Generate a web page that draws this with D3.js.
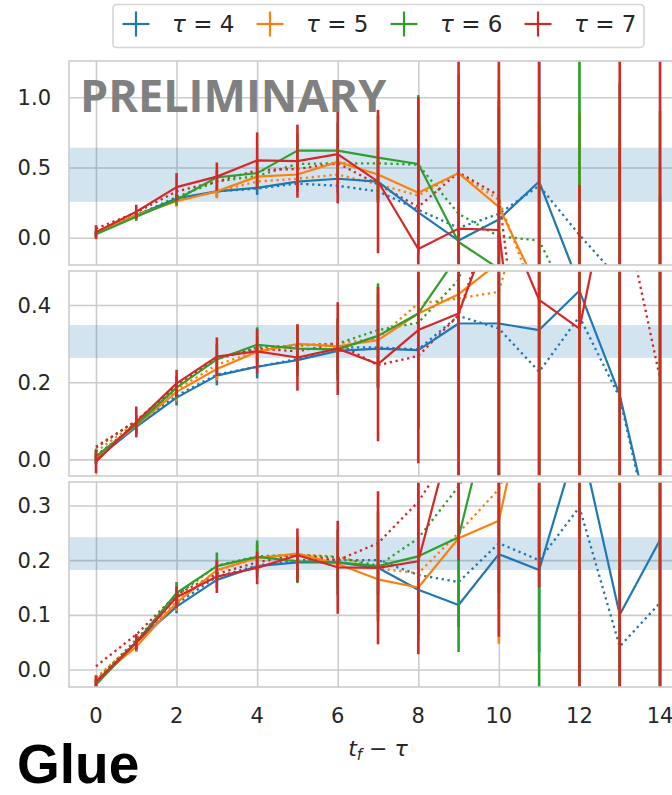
<!DOCTYPE html>
<html>
<head>
<meta charset="utf-8">
<script src="https://cdn.jsdelivr.net/npm/d3@7"></script>
<style>
  html, body { margin: 0; padding: 0; background: #fff; }
  svg { display: block; }
</style>
</head>
<body>
<svg id="chart" width="672" height="795"></svg>
<script>
// time separation t_f - tau
const steps = d3.range(0, 15);
const taus = [4, 5, 6, 7];
const colors = ["#1f77b4", "#ff7f0e", "#2ca02c", "#d62728"];

// ---- upper panel ----
const topMean = [
  [0.03, 0.16, 0.28, 0.33, 0.355, 0.40, 0.42, 0.40, 0.18, -0.02, 0.13, 0.40, -0.34, -0.9, -1.2],
  [0.03, 0.16, 0.26, 0.33, 0.435, 0.45, 0.54, 0.45, 0.32, 0.46, 0.22, -0.38, -0.6, -0.8, -1.0],
  [0.025, 0.15, 0.27, 0.43, 0.46, 0.62, 0.62, 0.57, 0.525, -0.03, -0.22, -0.5, -0.7, -0.9, -1.1],
  [0.04, 0.185, 0.36, 0.435, 0.55, 0.545, 0.595, 0.40, -0.08, 0.065, 0.055, -2.3, -2.5, -2.0, -2.2]
];
const topErr = [
  [0.02, 0.02, 0.03, 0.04, 0.05, 0.07, 0.10, 0.15, 0.30, 0.6, 0.8, 1.0, 1.2, 1.5, 1.5],
  [0.02, 0.03, 0.04, 0.05, 0.07, 0.10, 0.15, 0.20, 0.40, 0.7, 0.9, 1.2, 1.5, 1.5, 1.5],
  [0.02, 0.03, 0.04, 0.05, 0.10, 0.12, 0.20, 0.30, 0.49, 1.0, 1.2, 1.5, 2.5, 2.0, 2.0],
  [0.05, 0.05, 0.10, 0.10, 0.20, 0.26, 0.35, 0.51, 1.08, 3.0, 3.0, 4.0, 2.875, 4.0, 4.0]
];
const topDotted = [
  [0.03, 0.16, 0.27, 0.33, 0.35, 0.385, 0.37, 0.33, 0.20, 0.07, 0.17, 0.37, 0.02, -0.3, -0.6],
  [0.04, 0.16, 0.27, 0.33, 0.40, 0.42, 0.45, 0.38, 0.30, 0.46, 0.27, -0.5, -0.8, -1.0, -1.2],
  [0.04, 0.16, 0.29, 0.40, 0.44, 0.525, 0.53, 0.53, 0.52, 0.17, 0.01, -0.02, -0.6, -0.9, -1.2],
  [0.065, 0.18, 0.33, 0.40, 0.48, 0.49, 0.53, 0.38, 0.22, 0.465, 0.30, -2.0, -2.0, -2.0, -2.0]
];

// ---- middle panel ----
const midMean = [
  [0.0, 0.084, 0.16, 0.217, 0.24, 0.257, 0.281, 0.287, 0.283, 0.352, 0.352, 0.335, 0.437, 0.167, -0.28],
  [0.005, 0.088, 0.175, 0.234, 0.279, 0.299, 0.293, 0.309, 0.378, 0.428, 0.51, 0.75, 0.9, 0.8, 0.7],
  [0.008, 0.09, 0.186, 0.259, 0.297, 0.287, 0.285, 0.32, 0.378, 0.53, 0.75, 0.9, 0.8, 0.85, 0.9],
  [-0.006, 0.097, 0.197, 0.266, 0.28, 0.264, 0.287, 0.247, 0.335, 0.378, 0.66, 0.413, 0.339, 0.85, 1.2]
];
const midErr = [
  [0.01, 0.015, 0.02, 0.025, 0.03, 0.04, 0.06, 0.10, 0.20, 0.4, 0.6, 0.8, 1.0, 1.0, 1.0],
  [0.012, 0.02, 0.025, 0.03, 0.035, 0.05, 0.07, 0.12, 0.25, 0.45, 0.7, 0.9, 1.0, 1.0, 1.0],
  [0.02, 0.025, 0.03, 0.04, 0.045, 0.06, 0.08, 0.136, 0.30, 0.5, 0.8, 1.0, 1.0, 1.0, 1.0],
  [0.03, 0.04, 0.035, 0.05, 0.057, 0.086, 0.12, 0.20, 0.345, 2.0, 2.0, 2.0, 2.0, 2.0, 2.0]
];
const midDotted = [
  [0.01, 0.09, 0.165, 0.22, 0.24, 0.26, 0.29, 0.29, 0.285, 0.372, 0.339, 0.227, 0.37, 0.16, -0.3],
  [0.02, 0.095, 0.18, 0.245, 0.28, 0.295, 0.30, 0.314, 0.404, 0.417, 0.434, 0.81, 0.9, 1.0, 1.0],
  [0.03, 0.10, 0.19, 0.262, 0.29, 0.295, 0.30, 0.335, 0.354, 0.465, 0.8, 0.9, 0.9, 0.9, 0.9],
  [0.033, 0.10, 0.19, 0.26, 0.287, 0.28, 0.30, 0.244, 0.268, 0.374, 0.7, 0.9, 1.0, 0.70, 0.21]
];

// ---- lower panel ----
const lowMean = [
  [-0.025, 0.05, 0.115, 0.164, 0.189, 0.196, 0.196, 0.186, 0.146, 0.118, 0.211, 0.182, 0.43, 0.10, 0.237],
  [-0.02, 0.042, 0.122, 0.182, 0.204, 0.212, 0.193, 0.165, 0.15, 0.24, 0.272, 0.61, 0.5, 0.5, 0.5],
  [-0.028, 0.05, 0.14, 0.189, 0.206, 0.198, 0.196, 0.189, 0.207, 0.242, 0.54, 0.6, 0.6, 0.6, 0.6],
  [-0.023, 0.05, 0.132, 0.17, 0.186, 0.209, 0.187, 0.186, 0.198, 0.48, 0.70, 1.0, 0.9, 0.9, 0.9]
];
const lowErr = [
  [0.008, 0.01, 0.012, 0.015, 0.02, 0.025, 0.03, 0.05, 0.08, 0.04, 0.10, 0.15, 0.3, 0.5, 0.5],
  [0.01, 0.01, 0.015, 0.02, 0.025, 0.03, 0.04, 0.06, 0.10, 0.12, 0.225, 0.4, 0.5, 0.5, 0.5],
  [0.01, 0.012, 0.02, 0.025, 0.03, 0.04, 0.06, 0.10, 0.14, 0.21, 0.4, 0.7, 1.0, 1.0, 1.0],
  [0.012, 0.015, 0.02, 0.03, 0.03, 0.049, 0.085, 0.14, 0.17, 0.28, 0.64, 0.85, 2.0, 2.0, 2.0]
];
const lowDotted = [
  [-0.02, 0.05, 0.12, 0.17, 0.19, 0.20, 0.20, 0.20, 0.173, 0.16, 0.231, 0.20, 0.297, 0.042, 0.122],
  [-0.015, 0.05, 0.125, 0.18, 0.205, 0.21, 0.207, 0.185, 0.176, 0.25, 0.33, 0.5, 0.5, 0.5, 0.5],
  [-0.02, 0.055, 0.135, 0.19, 0.207, 0.21, 0.205, 0.19, 0.24, 0.335, 0.45, 0.5, 0.5, 0.5, 0.5],
  [0.006, 0.064, 0.137, 0.175, 0.196, 0.21, 0.20, 0.231, 0.307, 0.42, 0.6, 0.6, 0.6, 0.6, 0.6]
];

// y ticks and shaded reference bands
const topTicks = [0, 0.5, 1.0];
const midTicks = [0, 0.2, 0.4];
const lowTicks = [0, 0.1, 0.2, 0.3];
const topBand = [0.256, 0.641];
const midBand = [0.263, 0.348];
const lowBand = [0.182, 0.242];
const xTicks = [0, 2, 4, 6, 8, 10, 12, 14];

const svg = d3.select("#chart");
const gridColor = "#cccccc";
const x = d3.scaleLinear().domain([-0.67, 14.67]).range([69, 687]);

const panels = [
  { id: "top", top: 61, bottom: 265, domain: [-0.194, 1.258], ticks: topTicks, band: topBand, mean: topMean, err: topErr, dotted: topDotted },
  { id: "mid", top: 271, bottom: 476, domain: [-0.043, 0.488], ticks: midTicks, band: midBand, mean: midMean, err: midErr, dotted: midDotted },
  { id: "low", top: 482, bottom: 687, domain: [-0.032, 0.343], ticks: lowTicks, band: lowBand, mean: lowMean, err: lowErr, dotted: lowDotted }
];

const defs = svg.append("defs");

panels.forEach(p => {
  const y = d3.scaleLinear().domain(p.domain).range([p.bottom, p.top]);
  const [x0, x1] = x.range();

  defs.append("clipPath").attr("id", "clip-" + p.id)
    .append("rect").attr("x", x0).attr("y", p.top)
    .attr("width", x1 - x0).attr("height", p.bottom - p.top);

  const g = svg.append("g");

  // grid lines
  const xAxis = d3.axisBottom(x).tickValues(xTicks).tickSize(-(p.bottom - p.top)).tickFormat("");
  const gx = g.append("g").attr("transform", `translate(0,${p.bottom})`).call(xAxis);
  const yAxis = d3.axisLeft(y).tickValues(p.ticks).tickSize(-(x1 - x0)).tickFormat("");
  const gy = g.append("g").attr("transform", `translate(${x0},0)`).call(yAxis);
  [gx, gy].forEach(a => {
    a.select(".domain").remove();
    a.selectAll("line").attr("stroke", gridColor).attr("stroke-width", 1.6);
  });

  // y tick labels
  g.selectAll("text.ylab").data(p.ticks).join("text")
    .attr("class", "ylab")
    .attr("x", 51).attr("y", d => y(d))
    .attr("dy", "0.36em")
    .attr("text-anchor", "end")
    .attr("font-family", "DejaVu Sans")
    .attr("font-size", 21)
    .attr("fill", "#262626")
    .text(d => d3.format(".1f")(d));

  const plot = g.append("g").attr("clip-path", `url(#clip-${p.id})`);

  // reference band
  plot.append("rect")
    .attr("x", x0).attr("width", x1 - x0)
    .attr("y", y(p.band[1])).attr("height", y(p.band[0]) - y(p.band[1]))
    .attr("fill", "#1f77b4").attr("fill-opacity", 0.2);

  const line = d3.line().x((d, i) => x(steps[i])).y(d => y(d));

  taus.forEach((t, k) => {
    const c = colors[k];
    // dotted companion curve
    plot.append("path")
      .attr("d", line(p.dotted[k]))
      .attr("fill", "none").attr("stroke", c)
      .attr("stroke-width", 2.3)
      .attr("stroke-dasharray", "2.3,3.6");
  });

  taus.forEach((t, k) => {
    const c = colors[k];
    const series = steps.map((s, i) => ({ s, v: p.mean[k][i], e: p.err[k][i] }));
    plot.append("path")
      .attr("d", line(p.mean[k]))
      .attr("fill", "none").attr("stroke", c)
      .attr("stroke-width", 2.2)
      .attr("stroke-linejoin", "round");
    plot.selectAll(null).data(series).join("line")
      .attr("x1", d => x(d.s)).attr("x2", d => x(d.s))
      .attr("y1", d => y(d.v - d.e)).attr("y2", d => y(d.v + d.e))
      .attr("stroke", c).attr("stroke-width", 2.6);
  });

  // frame
  g.append("rect")
    .attr("x", x0).attr("y", p.top)
    .attr("width", x1 - x0).attr("height", p.bottom - p.top)
    .attr("fill", "none").attr("stroke", gridColor).attr("stroke-width", 1.6);

  if (p.id === "top") {
    g.append("text")
      .attr("x", 80).attr("y", 112)
      .attr("font-family", "Open Sans").attr("font-weight", 700)
      .attr("font-size", 45).attr("fill", "#808080")
      .text("PRELIMINARY");
  }
});

// x tick labels
svg.selectAll("text.xlab").data(xTicks).join("text")
  .attr("class", "xlab")
  .attr("x", d => x(d)).attr("y", 723)
  .attr("text-anchor", "middle")
  .attr("font-family", "DejaVu Sans")
  .attr("font-size", 21)
  .attr("fill", "#262626")
  .text(d => d);

// x axis title
const xt = svg.append("text")
  .attr("x", x(7.0)).attr("y", 756)
  .attr("text-anchor", "middle")
  .attr("font-family", "DejaVu Sans")
  .attr("font-size", 22)
  .attr("fill", "#262626");
xt.append("tspan").attr("font-style", "italic").text("t");
xt.append("tspan").attr("font-style", "italic").attr("font-size", 15).attr("dy", 4).text("f");
xt.append("tspan").attr("dy", -4).text(" − ");
xt.append("tspan").attr("font-style", "italic").text("τ");

// legend
const leg = svg.append("g");
leg.append("rect")
  .attr("x", 113).attr("y", 4.5).attr("width", 531).attr("height", 43)
  .attr("rx", 4).attr("fill", "#fff")
  .attr("stroke", "#d5d5d5").attr("stroke-width", 1.6);
const legX = [136, 270, 404, 538];
taus.forEach((t, k) => {
  const cx = legX[k], cy = 24;
  leg.append("line").attr("x1", cx - 13.5).attr("x2", cx + 13.5).attr("y1", cy).attr("y2", cy)
    .attr("stroke", colors[k]).attr("stroke-width", 2.2);
  leg.append("line").attr("x1", cx).attr("x2", cx).attr("y1", cy - 12.5).attr("y2", cy + 12.5)
    .attr("stroke", colors[k]).attr("stroke-width", 2.2);
  const tx = leg.append("text")
    .attr("x", cx + 36).attr("y", 32)
    .attr("font-family", "DejaVu Sans").attr("font-size", 23)
    .attr("fill", "#262626");
  tx.append("tspan").attr("font-style", "italic").text("τ");
  tx.append("tspan").text(" = " + t);
});

// panel title
svg.append("text")
  .attr("x", 17).attr("y", 783)
  .attr("font-family", "Liberation Sans").attr("font-weight", 700)
  .attr("font-size", 55).attr("fill", "#000")
  .text("Glue");
</script>
</body>
</html>
